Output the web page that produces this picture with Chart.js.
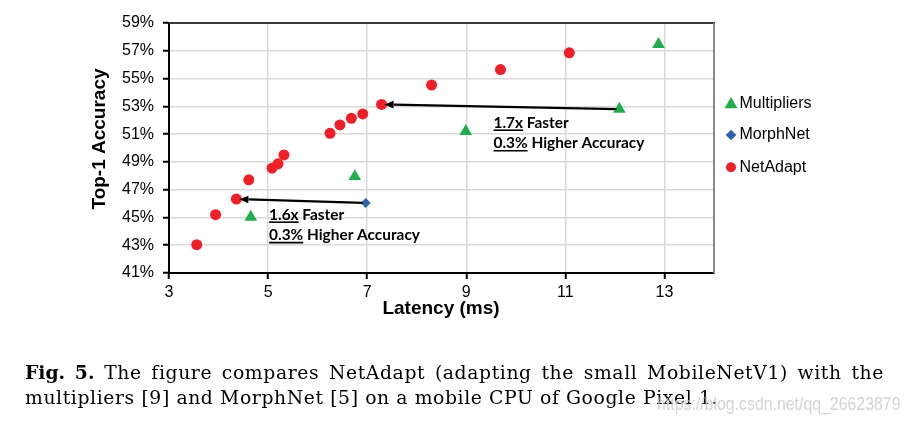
<!DOCTYPE html>
<html>
<head>
<meta charset="utf-8">
<script src="https://cdn.jsdelivr.net/npm/chart.js@4.4.1/dist/chart.umd.min.js"></script>
<style>
html,body{margin:0;padding:0;background:#fff;}
#wrap{position:relative;width:910px;height:426px;overflow:hidden;background:#fff;}
#c{position:absolute;left:0;top:0;}
#cap{position:absolute;left:25px;top:360px;width:859px;font-family:"DejaVu Serif","Liberation Serif",serif;font-size:18.8px;line-height:25.3px;color:#000;letter-spacing:0.6px;}
#cap .l1{text-align:justify;text-align-last:justify;white-space:nowrap;}
#cap .l2{white-space:nowrap;}
#cap b{letter-spacing:0;}
#wm{position:absolute;left:657px;top:393px;font-family:"Liberation Sans",Arial,sans-serif;font-size:19px;line-height:22px;color:rgba(200,200,200,0.8);white-space:nowrap;transform:scaleX(0.835);transform-origin:0 0;}
</style>
</head>
<body>
<div id="wrap">
<canvas id="c" width="910" height="426"></canvas>
<div id="cap"><div class="l1"><b>Fig. 5.</b> The figure compares NetAdapt (adapting the small MobileNetV1) with the</div><div class="l2">multipliers [9] and MorphNet [5] on a mobile CPU of Google Pixel 1.</div></div>
<div id="wm">https://blog.csdn.net/qq_26623879</div>
</div>
<script>
// ---- data ----
const seriesNames = ['Multipliers', 'MorphNet', 'NetAdapt'];
const multipliersLatency  = [4.65, 6.75, 8.99, 12.09, 12.88];
const multipliersAccuracy = [45.03, 47.95, 51.2, 52.8, 57.47];
const morphNetLatency  = [6.97];
const morphNetAccuracy = [46.04];
const netAdaptLatency  = [3.56, 3.94, 4.36, 4.61, 5.08, 5.20, 5.32, 6.25, 6.45, 6.68, 6.91, 7.29, 8.30, 9.69, 11.08];
const netAdaptAccuracy = [43.04, 45.2, 46.32, 47.71, 48.55, 48.86, 49.5, 51.06, 51.66, 52.14, 52.45, 53.14, 54.53, 55.65, 56.85];
const xTickValues = [3, 5, 7, 9, 11, 13];
const yTickValues = [41, 43, 45, 47, 49, 51, 53, 55, 57, 59];
const yTickLabels = ['41%', '43%', '45%', '47%', '49%', '51%', '53%', '55%', '57%', '59%'];
const xRange = [3, 14];
const yRange = [41, 59];
const xTitle = 'Latency (ms)';
const yTitle = 'Top-1 Accuracy';
// arrows: from the compared point to the NetAdapt point
const arrowFrom = [[6.97, 46.04], [12.09, 52.8]];
const arrowTo   = [[4.36, 46.32], [7.29, 53.14]];
// annotation labels (underlined part, rest), anchored in data units
const annotFirst  = [['1.6x', ' Faster'], ['1.7x', ' Faster']];
const annotSecond = [['0.3%', ' Higher Accuracy'], ['0.3%', ' Higher Accuracy']];
const annotAnchor = [[5.02, 45.2], [9.55, 51.82]];

const GREEN = '#22AC4E', BLUE = '#2E62AE', RED = '#EE1F26';
const toPts = (xs, ys) => xs.map((v, i) => ({x: v, y: ys[i]}));

function drawMarker(ctx, style, x, y, r, color) {
  ctx.fillStyle = color;
  ctx.beginPath();
  if (style === 'triangle') {
    ctx.moveTo(x, y - r);
    ctx.lineTo(x + r * Math.sin(2 * Math.PI / 3), y + r / 2);
    ctx.lineTo(x - r * Math.sin(2 * Math.PI / 3), y + r / 2);
    ctx.closePath();
  } else if (style === 'rectRot') {
    ctx.moveTo(x, y - r); ctx.lineTo(x + r, y); ctx.lineTo(x, y + r); ctx.lineTo(x - r, y); ctx.closePath();
  } else {
    ctx.arc(x, y, r, 0, Math.PI * 2);
  }
  ctx.fill();
}

const overlay = {
  id: 'overlay',
  afterDatasetsDraw(chart) {
    const {ctx, chartArea: a} = chart;
    const xs = chart.scales.x, ys = chart.scales.y;
    ctx.save();
    // frame top / right
    ctx.lineWidth = 2;
    ctx.strokeStyle = '#3a3a3a';
    ctx.beginPath(); ctx.moveTo(a.left, a.top); ctx.lineTo(a.right + 1, a.top); ctx.stroke();
    ctx.strokeStyle = '#8a8a8a';
    ctx.beginPath(); ctx.moveTo(a.right, a.top); ctx.lineTo(a.right, a.bottom); ctx.stroke();

    // arrows
    arrowFrom.forEach((f, i) => {
      const t = arrowTo[i];
      const x0 = xs.getPixelForValue(f[0]), y0 = ys.getPixelForValue(f[1]);
      const x1 = xs.getPixelForValue(t[0]), y1 = ys.getPixelForValue(t[1]);
      const d = Math.hypot(x0 - x1, y0 - y1);
      const ux = (x0 - x1) / d, uy = (y0 - y1) / d;
      const tx = x1 + ux * 3, ty = y1 + uy * 3;
      const sx = x0 - ux * 3, sy = y0 - uy * 3;
      const hl = 9, hw = 3.8;
      const bx = tx + ux * hl, by = ty + uy * hl;
      ctx.strokeStyle = '#000'; ctx.lineWidth = 2.3;
      ctx.beginPath(); ctx.moveTo(sx, sy); ctx.lineTo(bx, by); ctx.stroke();
      ctx.fillStyle = '#000';
      ctx.beginPath();
      ctx.moveTo(tx, ty);
      ctx.lineTo(bx - uy * hw, by + ux * hw);
      ctx.lineTo(bx + uy * hw, by - ux * hw);
      ctx.closePath(); ctx.fill();
    });

    // annotations
    ctx.font = 'bold 15.4px Lato, "Open Sans", sans-serif';
    ctx.textBaseline = 'middle';
    ctx.textAlign = 'left';
    ctx.fillStyle = '#000';
    annotAnchor.forEach((p, i) => {
      const px = xs.getPixelForValue(p[0]), py = ys.getPixelForValue(p[1]);
      [[annotFirst[i], 0], [annotSecond[i], 20.5]].forEach(([parts, dy]) => {
        const w0 = ctx.measureText(parts[0]).width;
        ctx.fillText(parts[0], px, py + dy);
        ctx.fillText(parts[1], px + w0, py + dy);
        ctx.lineWidth = 1.6; ctx.strokeStyle = '#000';
        ctx.beginPath(); ctx.moveTo(px, py + dy + 7.5); ctx.lineTo(px + w0, py + dy + 7.5); ctx.stroke();
      });
    });
    ctx.restore();
  },
  afterDraw(chart) {
    const {ctx} = chart;
    ctx.save();
    // axis titles
    ctx.fillStyle = '#000';
    ctx.font = 'bold 19px "Liberation Sans", Arial, sans-serif';
    ctx.textAlign = 'center';
    ctx.textBaseline = 'alphabetic';
    ctx.fillText(xTitle, 441, 314);
    ctx.translate(105, 139);
    ctx.rotate(-Math.PI / 2);
    ctx.fillText(yTitle, 0, 0);
    ctx.restore();

    // legend
    ctx.save();
    const styles = ['triangle', 'rectRot', 'circle'];
    const colors = [GREEN, BLUE, RED];
    const radii = [7.5, 5.3, 5];
    const ly = [103.5, 135, 167.3];
    ctx.font = '16px "Liberation Sans", Arial, sans-serif';
    ctx.textBaseline = 'middle';
    ctx.textAlign = 'left';
    seriesNames.forEach((n, i) => {
      drawMarker(ctx, styles[i], 731, styles[i] === 'triangle' ? ly[i] + 1 : ly[i], radii[i], colors[i]);
      ctx.fillStyle = '#000';
      ctx.fillText(n, 739.5, ly[i]);
    });
    ctx.restore();
  }
};

new Chart(document.getElementById('c'), {
  type: 'scatter',
  data: {
    datasets: [
      {label: seriesNames[0], data: toPts(multipliersLatency, multipliersAccuracy), pointStyle: 'triangle', pointRadius: 7.3, backgroundColor: GREEN, borderWidth: 0},
      {label: seriesNames[1], data: toPts(morphNetLatency, morphNetAccuracy), pointStyle: 'rectRot', pointRadius: 5, backgroundColor: BLUE, borderWidth: 0},
      {label: seriesNames[2], data: toPts(netAdaptLatency, netAdaptAccuracy), pointStyle: 'circle', pointRadius: 5.5, backgroundColor: RED, borderWidth: 0}
    ]
  },
  options: {
    responsive: false,
    animation: false,
    devicePixelRatio: 1,
    events: [],
    layout: {padding: {left: 109, right: 196, top: 23, bottom: 123}},
    plugins: {legend: {display: false}, tooltip: {enabled: false}},
    scales: {
      x: {
        type: 'linear', min: xRange[0], max: xRange[1],
        afterBuildTicks: s => { s.ticks = xTickValues.map(v => ({value: v})); },
        afterFit: s => { s.height = 30; },
        grid: {color: '#d9d9d9', lineWidth: 1.5, tickColor: '#000', tickLength: 6, tickWidth: 2},
        border: {color: '#000', width: 2},
        ticks: {color: '#000', font: {family: '"Liberation Sans", Arial, sans-serif', size: 16}, padding: 4, maxRotation: 0}
      },
      y: {
        type: 'linear', min: yRange[0], max: yRange[1],
        afterBuildTicks: s => { s.ticks = yTickValues.map(v => ({value: v})); },
        afterFit: s => { s.width = 60; },
        grid: {color: '#d9d9d9', lineWidth: 1.5, tickColor: '#000', tickLength: 6, tickWidth: 2},
        border: {color: '#000', width: 2},
        ticks: {color: '#000', font: {family: '"Liberation Sans", Arial, sans-serif', size: 16}, padding: 9,
                callback: (v, i) => yTickLabels[yTickValues.indexOf(v)] ?? (v + '%')}
      }
    }
  },
  plugins: [overlay]
});
</script>
</body>
</html>
